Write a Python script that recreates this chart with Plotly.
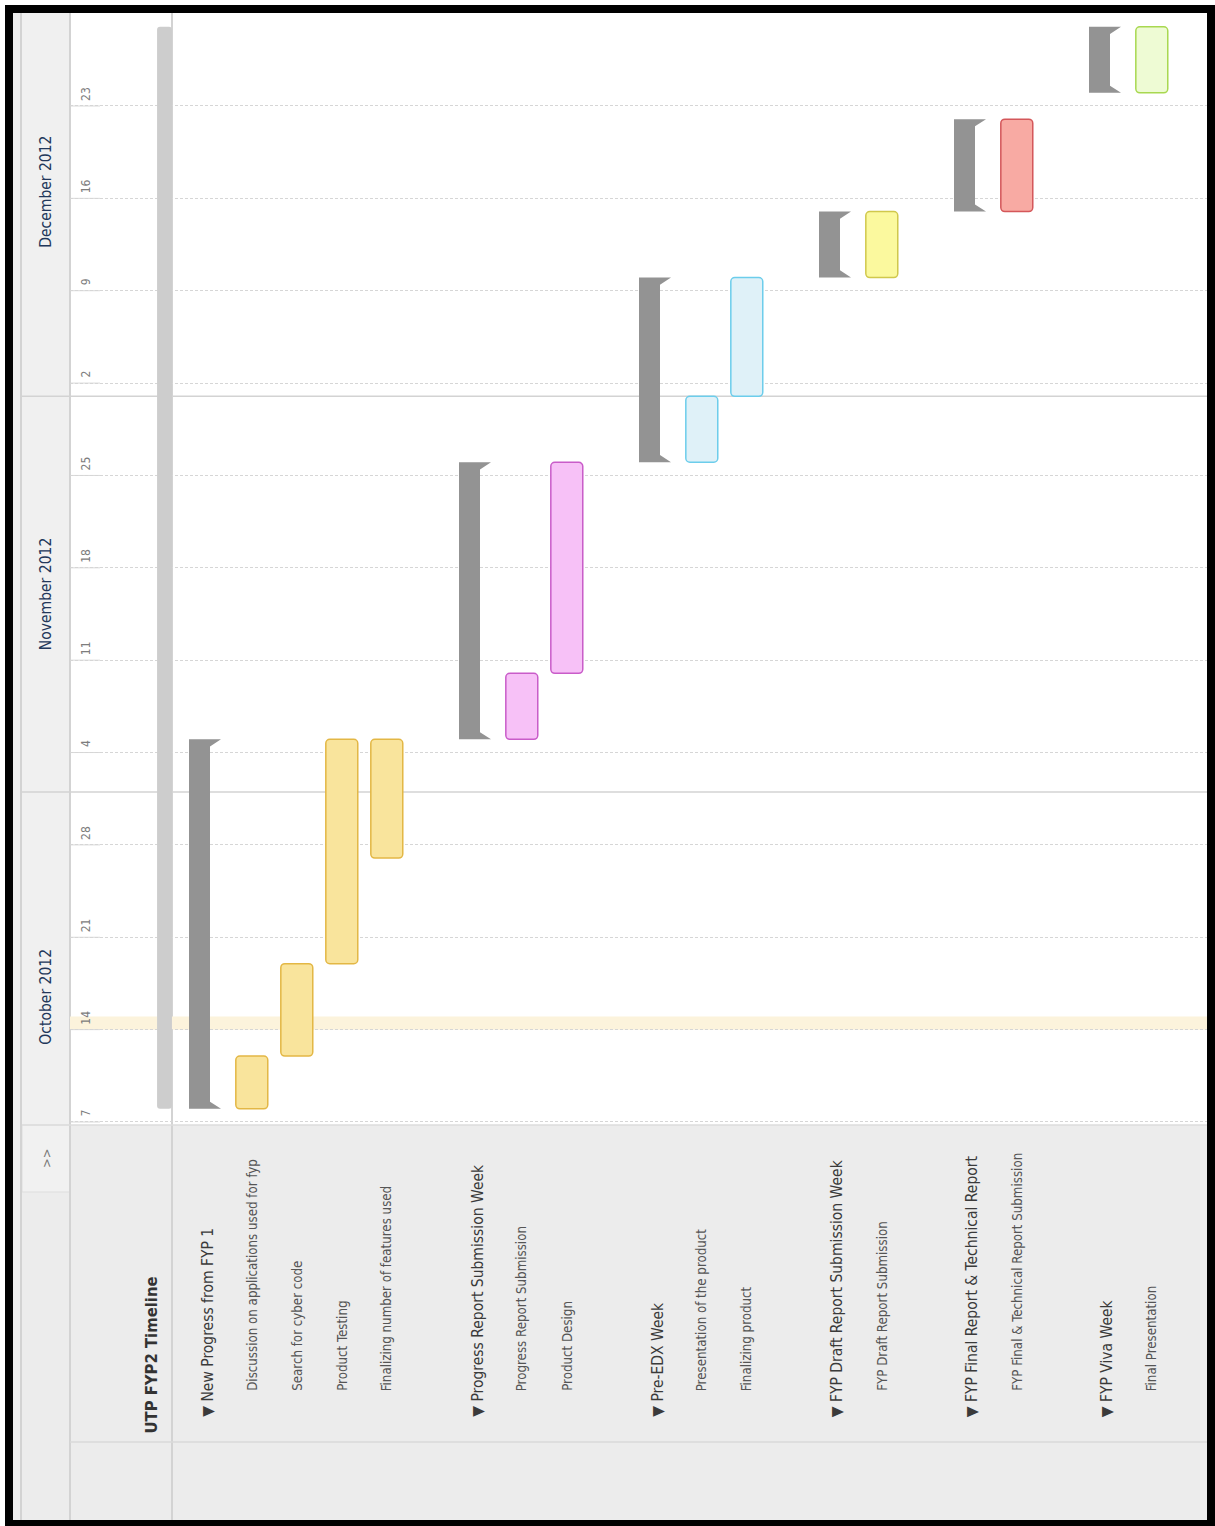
import plotly.graph_objects as go
import pandas as pd

# ---------------- data ----------------
chart_title = "UTP FYP2 Timeline"

groups = [
    "New Progress from FYP 1",
    "Progress Report Submission Week",
    "Pre-EDX Week",
    "FYP Draft Report Submission Week",
    "FYP Final Report & Technical Report",
    "FYP Viva Week",
]
group_start = ["2012-10-08", "2012-11-05", "2012-11-26", "2012-12-10", "2012-12-15", "2012-12-24"]
group_end = ["2012-11-05", "2012-11-26", "2012-12-10", "2012-12-15", "2012-12-22", "2012-12-29"]

tasks = [
    "Discussion on applications used for fyp",
    "Search for cyber code",
    "Product Testing",
    "Finalizing number of features used",
    "Progress Report Submission",
    "Product Design",
    "Presentation of the product",
    "Finalizing product",
    "FYP Draft Report Submission",
    "FYP Final & Technical Report Submission",
    "Final Presentation",
]
task_group = [0, 0, 0, 0, 1, 1, 2, 2, 3, 4, 5]
task_start = ["2012-10-08", "2012-10-12", "2012-10-19", "2012-10-27", "2012-11-05", "2012-11-10",
              "2012-11-26", "2012-12-01", "2012-12-10", "2012-12-15", "2012-12-24"]
task_end = ["2012-10-12", "2012-10-19", "2012-11-05", "2012-11-05", "2012-11-10", "2012-11-26",
            "2012-12-01", "2012-12-10", "2012-12-15", "2012-12-22", "2012-12-29"]

months = ["October 2012", "November 2012", "December 2012"]
month_start = ["2012-10-01", "2012-11-01", "2012-12-01"]
month_end = ["2012-11-01", "2012-12-01", "2013-01-01"]

tick_dates = ["2012-10-07", "2012-10-14", "2012-10-21", "2012-10-28", "2012-11-04", "2012-11-11",
              "2012-11-18", "2012-11-25", "2012-12-02", "2012-12-09", "2012-12-16", "2012-12-23"]
tick_labels = ["7", "14", "21", "28", "4", "11", "18", "25", "2", "9", "16", "23"]

today = "2012-10-14"

# ---------------- style ----------------
group_fill = ["#f9e49c", "#f7c1f7", "#dff1f8", "#fbf99e", "#f8aaa3", "#eefbd4"]
group_line = ["#e3b745", "#c95cc9", "#6ccdeb", "#d0c84c", "#d4575a", "#a8d850"]
BRACKET = "#939393"
SUMMARY = "#cdcdcd"
LINE = "#d3d3d3"
FONT = "Liberation Sans Narrow, Arial Narrow, DejaVu Sans Condensed, Liberation Sans, sans-serif"
TASK_OFFSET = 0.04

W, H = 1215, 1526


def xp(px):
    return px / W


def yp(py):
    return 1 - py / H


# row layout: title row 0, then each group + its tasks + one blank row
group_rows, task_rows = [], [None] * len(tasks)
r = 1
for gi in range(len(groups)):
    group_rows.append(r)
    r += 1
    for ti, g in enumerate(task_group):
        if g == gi:
            task_rows[ti] = r
            r += 1
    r += 1

MS_DAY = 86400000.0

fig = go.Figure()

# project summary bar
proj_start = min(pd.to_datetime(task_start))
proj_end = max(pd.to_datetime(task_end))
fig.add_trace(go.Bar(
    x=[0.1], y=[(proj_end - proj_start).total_seconds() * 1000], base=[proj_start.strftime("%Y-%m-%d")],
    width=0.33, marker=dict(color=SUMMARY, line=dict(width=0), cornerradius=3),
    hoverinfo="skip", showlegend=False))

# group brackets (polygons)
cap_h = pd.Timedelta(hours=13)
bx, by = [], []
for gi, row in enumerate(group_rows):
    s = pd.Timestamp(group_start[gi])
    e = pd.Timestamp(group_end[gi])
    L, B, C = row - 16 / 45, row + 5 / 45, row + 16 / 45
    pts = [(L, s), (C, s), (B, s + cap_h), (B, e - cap_h), (C, e), (L, e), (L, s)]
    for px_, py_ in pts:
        bx.append(px_)
        by.append(py_.strftime("%Y-%m-%d %H:%M"))
    bx.append(None)
    by.append(None)
fig.add_trace(go.Scatter(x=bx, y=by, mode="lines", fill="toself", fillcolor=BRACKET,
                         line=dict(width=0, color=BRACKET), hoverinfo="skip", showlegend=False))

# task bars
ts = pd.to_datetime(task_start)
te = pd.to_datetime(task_end)
fig.add_trace(go.Bar(
    x=[r_ + TASK_OFFSET for r_ in task_rows], y=[(b - a).total_seconds() * 1000 for a, b in zip(ts, te)],
    base=task_start, width=0.71,
    marker=dict(color=[group_fill[g] for g in task_group],
                line=dict(color=[group_line[g] for g in task_group], width=1.5),
                cornerradius=4),
    hovertext=tasks, hoverinfo="text", showlegend=False))

shapes = []
# white chart area
shapes.append(dict(type="rect", xref="paper", yref="paper", x0=xp(70), x1=xp(1207), y0=yp(1125), y1=yp(13),
                   fillcolor="white", line=dict(width=0), layer="below"))
# header column
shapes.append(dict(type="rect", xref="paper", yref="paper", x0=xp(22), x1=xp(70), y0=yp(1125), y1=yp(13),
                   fillcolor="#f0f0f0", line=dict(width=0), layer="below"))
# ">>" button
shapes.append(dict(type="rect", xref="paper", yref="paper", x0=xp(22), x1=xp(70), y0=yp(1192), y1=yp(1125),
                   fillcolor="#f1f1f1", line=dict(width=1, color="#dddddd"), layer="below"))
# structural lines
for xpx in [21, 70, 172]:
    shapes.append(dict(type="line", xref="paper", yref="paper", x0=xp(xpx), x1=xp(xpx), y0=yp(1520), y1=yp(13),
                       line=dict(color=LINE, width=2), layer="below"))
shapes.append(dict(type="line", xref="paper", yref="paper", x0=xp(70), x1=xp(1207), y0=yp(1442), y1=yp(1442),
                   line=dict(color="#dadada", width=1.5), layer="below"))
shapes.append(dict(type="line", xref="paper", yref="paper", x0=xp(22), x1=xp(1207), y0=yp(1125), y1=yp(1125),
                   line=dict(color="#dcdcdc", width=1.5), layer="below"))
# today band
shapes.append(dict(type="rect", xref="paper", yref="y", x0=xp(70), x1=xp(1207),
                   y0=today, y1=(pd.Timestamp(today) + pd.Timedelta(days=1)).strftime("%Y-%m-%d"),
                   fillcolor="#fcf3dc", line=dict(width=0), layer="below"))
# month separators
for ms in month_start[1:]:
    shapes.append(dict(type="line", xref="paper", yref="y", x0=xp(22), x1=xp(1207), y0=ms, y1=ms,
                       line=dict(color=LINE, width=1.5), layer="below"))
# solid tick segments
for td in tick_dates:
    shapes.append(dict(type="line", xref="paper", yref="y", x0=xp(71), x1=xp(100), y0=td, y1=td,
                       line=dict(color="#d8d8d8", width=1), layer="below"))
# border
shapes.append(dict(type="rect", xref="paper", yref="paper", x0=0, x1=1, y0=0, y1=1,
                   line=dict(color="white", width=10), fillcolor="rgba(0,0,0,0)", layer="above"))
shapes.append(dict(type="rect", xref="paper", yref="paper", x0=xp(9), x1=xp(1211), y0=yp(1524), y1=yp(9),
                   line=dict(color="black", width=8), fillcolor="rgba(0,0,0,0)", layer="above"))

ann = []
# month labels
for m, ms, me in zip(months, month_start, month_end):
    mid = pd.Timestamp(ms) + (pd.Timestamp(me) - pd.Timestamp(ms)) / 2
    ann.append(dict(text=m, x=xp(46), xref="paper", y=mid.strftime("%Y-%m-%d %H:%M"), yref="y",
                    textangle=-90, showarrow=False, xanchor="center", yanchor="middle",
                    font=dict(family=FONT, size=15.5, color="#22375a")))
# day labels
for td, tl in zip(tick_dates, tick_labels):
    ann.append(dict(text=tl, x=xp(86), xref="paper", y=td, yref="y", yshift=3,
                    textangle=-90, showarrow=False, xanchor="center", yanchor="bottom",
                    font=dict(family=FONT, size=12, color="#7d7d7d")))
# >> button
ann.append(dict(text="&gt;&gt;", x=xp(46), xref="paper", y=yp(1158), yref="paper", textangle=-90,
                showarrow=False, xanchor="center", yanchor="middle",
                font=dict(family=FONT, size=13, color="#777777")))
# title
ann.append(dict(text=chart_title, x=-0.2, xref="x", y=yp(1436), yref="paper", textangle=-90,
                showarrow=False, xanchor="center", yanchor="bottom",
                font=dict(family=FONT, size=16.5, color="#333333", weight="bold")))
# group labels
for g, row in zip(groups, group_rows):
    ann.append(dict(text="▼ " + g, x=row + 0.05, xref="x", y=yp(1419), yref="paper", textangle=-90,
                    showarrow=False, xanchor="center", yanchor="bottom",
                    font=dict(family=FONT, size=15.5, color="#3a3a3a")))
# task labels
for t, row in zip(tasks, task_rows):
    ann.append(dict(text=t, x=row + TASK_OFFSET, xref="x", y=yp(1393), yref="paper", textangle=-90,
                    showarrow=False, xanchor="center", yanchor="bottom",
                    font=dict(family=FONT, size=13.2, color="#555555")))

fig.update_layout(
    width=W, height=H, margin=dict(l=0, r=0, t=0, b=0),
    paper_bgcolor="#ececec", plot_bgcolor="rgba(0,0,0,0)",
    barmode="overlay", showlegend=False,
    shapes=shapes, annotations=ann,
    xaxis=dict(domain=[xp(70), xp(1207)], range=[-2, 23.2667], showgrid=False, zeroline=False,
               showticklabels=False, ticks="", showline=False, fixedrange=True),
    yaxis=dict(type="date", domain=[yp(1125), yp(13)], range=["2012-10-06 18:32", "2012-12-30 01:08"],
               tick0="2012-10-07", dtick=7 * MS_DAY, showgrid=True, gridcolor="#d6d6d6",
               griddash="3px,2px", gridwidth=1, zeroline=False, showticklabels=False, ticks="",
               showline=False, fixedrange=True),
)

fig.write_html("out.html")
